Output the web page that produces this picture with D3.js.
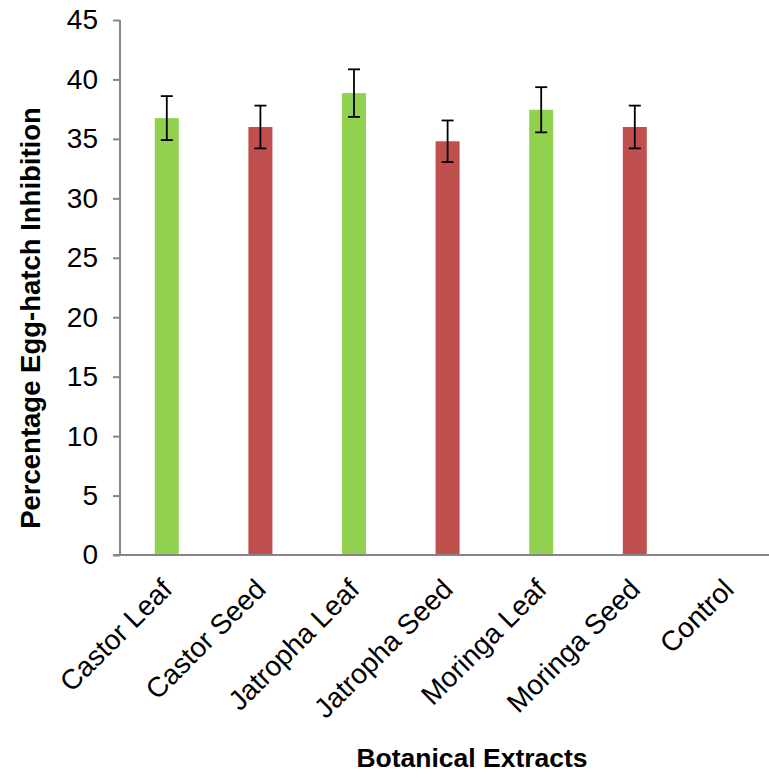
<!DOCTYPE html>
<html>
<head>
<meta charset="utf-8">
<script src="https://cdn.jsdelivr.net/npm/d3@7"></script>
<style>
  html, body { margin: 0; padding: 0; background: #fff; }
  svg { display: block; font-family: "Liberation Sans", Arial, sans-serif; }
</style>
</head>
<body>
<svg id="chart" width="769" height="778"></svg>
<script>
const categories = ["Castor Leaf", "Castor Seed", "Jatropha Leaf", "Jatropha Seed", "Moringa Leaf", "Moringa Seed", "Control"];
const values = [36.75, 36.0, 38.85, 34.8, 37.45, 36.0, 0];
const errors = [1.85, 1.8, 2.0, 1.75, 1.9, 1.8, 0];
const barColors = ["#92D050", "#C0504D", "#92D050", "#C0504D", "#92D050", "#C0504D", "#92D050"];
const yTicks = [0, 5, 10, 15, 20, 25, 30, 35, 40, 45];
const yTitle = "Percentage Egg-hatch Inhibition";
const xTitle = "Botanical Extracts";

(function () {
const svg = d3.select("#chart");
const plotLeft = 120, plotTop = 20, plotBottom = 555, bandStep = 93.6;

const x = d3.scaleBand().domain(categories).range([plotLeft, plotLeft + bandStep * categories.length]).padding(0);
const y = d3.scaleLinear().domain([0, 45]).range([plotBottom, plotTop]);
const barW = 24;
const axisColor = "#868686";

// Bars
svg.append("g").selectAll("rect").data(categories).join("rect")
  .attr("x", (d) => x(d) + x.bandwidth() / 2 - barW / 2)
  .attr("y", (d, i) => y(values[i]))
  .attr("width", barW)
  .attr("height", (d, i) => y(0) - y(values[i]))
  .attr("fill", (d, i) => barColors[i]);

// Error bars
const eg = svg.append("g").attr("stroke", "#000").attr("stroke-width", 1.8);
categories.forEach((c, i) => {
  if (errors[i] <= 0) return;
  const cx = x(c) + x.bandwidth() / 2;
  const y1 = y(values[i] + errors[i]), y2 = y(values[i] - errors[i]);
  eg.append("line").attr("x1", cx).attr("x2", cx).attr("y1", y1).attr("y2", y2);
  eg.append("line").attr("x1", cx - 6).attr("x2", cx + 6).attr("y1", y1).attr("y2", y1);
  eg.append("line").attr("x1", cx - 6).attr("x2", cx + 6).attr("y1", y2).attr("y2", y2);
});

// Y axis
const yAxis = svg.append("g").attr("transform", `translate(${plotLeft},0)`)
  .call(d3.axisLeft(y).tickValues(yTicks).tickSize(7).tickPadding(15).tickFormat(d3.format("d")));
yAxis.select(".domain").attr("stroke", axisColor).attr("stroke-width", 2).attr("d", `M0,${plotTop}V${plotBottom}`);
yAxis.selectAll(".tick line").attr("stroke", axisColor).attr("stroke-width", 2);
yAxis.selectAll(".tick text").attr("fill", "#000").style("font-size", "28px")
  .style("font-family", "'Liberation Sans', Arial, sans-serif");

// X axis line
svg.append("line").attr("x1", plotLeft - 7).attr("x2", 769).attr("y1", y(0)).attr("y2", y(0))
  .attr("stroke", axisColor).attr("stroke-width", 2);

// X labels
svg.append("g").selectAll("text").data(categories).join("text")
  .attr("transform", (d) => `translate(${x(d) + x.bandwidth() / 2 + 7},${y(0) + 36}) rotate(-45)`)
  .attr("text-anchor", "end")
  .style("font-size", "28px")
  .attr("fill", "#000")
  .text((d) => d);

// Titles
svg.append("text")
  .attr("transform", `translate(40,318) rotate(-90)`)
  .attr("text-anchor", "middle")
  .style("font-size", "27.5px").style("font-weight", "bold")
  .text(yTitle);

svg.append("text")
  .attr("x", 472).attr("y", 767)
  .attr("text-anchor", "middle")
  .style("font-size", "26.5px").style("font-weight", "bold")
  .text(xTitle);
})();
</script>
</body>
</html>
